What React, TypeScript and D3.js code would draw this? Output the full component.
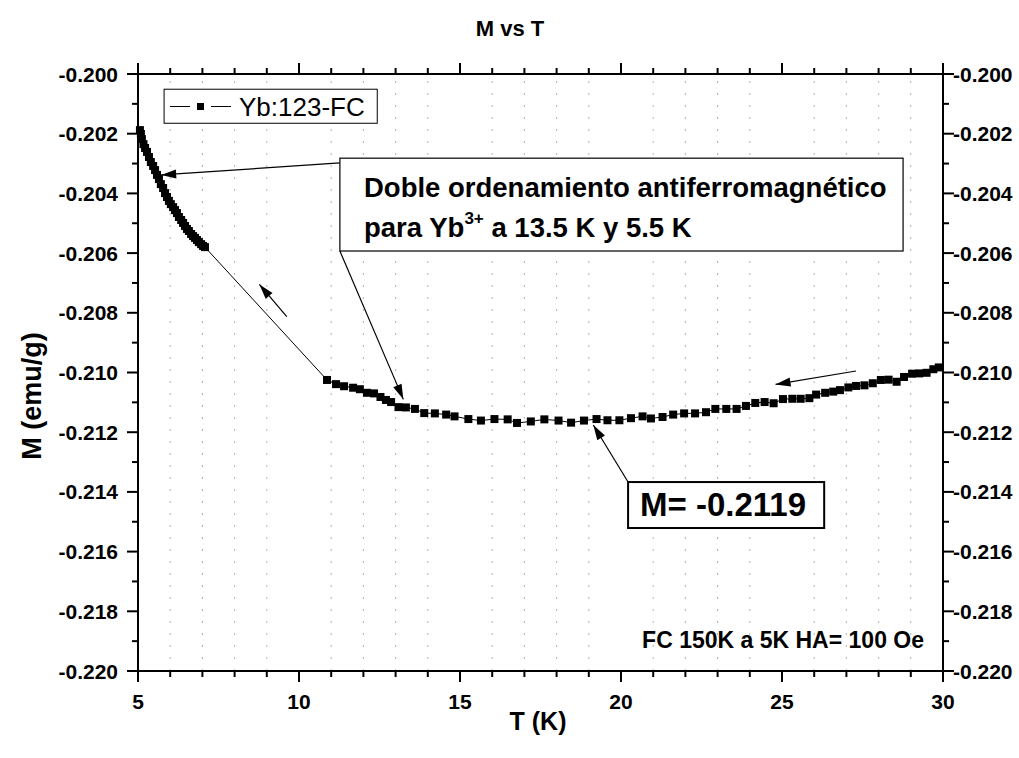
import React from "react";
import * as d3 from "d3";

// ---- data ----
const tempK: number[] = [
  5.06, 5.09, 5.12, 5.17, 5.22, 5.28, 5.34, 5.40, 5.47, 5.53, 5.59, 5.65, 5.71, 5.78, 5.84, 5.90,
  5.96, 6.02, 6.09, 6.15, 6.21, 6.27, 6.34, 6.40, 6.46, 6.52, 6.58, 6.65, 6.71, 6.77, 6.83, 6.89,
  6.96, 7.02, 7.08,
  10.87, 11.15, 11.40, 11.68, 11.89, 12.11, 12.33, 12.53, 12.70, 12.86, 13.09, 13.32, 13.60, 13.89,
  14.22, 14.57, 14.83, 15.26, 15.65, 16.07, 16.48, 16.77, 17.20, 17.62, 18.06, 18.45, 18.85, 19.24,
  19.58, 19.95, 20.31, 20.67, 20.93, 21.29, 21.62, 21.96, 22.30, 22.64, 22.93, 23.27, 23.59, 23.88,
  24.17, 24.46, 24.74, 25.03, 25.32, 25.58, 25.85, 26.06, 26.34, 26.59, 26.80, 27.06, 27.30, 27.56,
  27.82, 28.07, 28.31, 28.56, 28.79, 29.04, 29.26, 29.49, 29.70, 29.87,
];
const magM: number[] = [
  -0.20188, -0.20201, -0.20218, -0.20235, -0.20248, -0.20261, -0.20278, -0.20295, -0.20308, -0.20322,
  -0.20338, -0.20352, -0.20369, -0.20382, -0.20399, -0.20412, -0.20425, -0.20436, -0.20446, -0.20456,
  -0.20466, -0.20479, -0.20489, -0.20499, -0.20509, -0.20519, -0.20526, -0.20536, -0.20543, -0.20549,
  -0.20556, -0.20563, -0.20570, -0.20576, -0.20580,
  -0.21025, -0.21039, -0.21046, -0.21051, -0.21056, -0.21068, -0.21070, -0.21082, -0.21092, -0.21099,
  -0.21116, -0.21117, -0.21122, -0.21136, -0.21137, -0.21141, -0.21147, -0.21156, -0.21161, -0.21156,
  -0.21157, -0.21169, -0.21164, -0.21157, -0.21161, -0.21168, -0.21161, -0.21156, -0.21160, -0.21160,
  -0.21153, -0.21147, -0.21154, -0.21149, -0.21141, -0.21137, -0.21137, -0.21133, -0.21122, -0.21122,
  -0.21122, -0.21112, -0.21102, -0.21099, -0.21103, -0.21089, -0.21088, -0.21088, -0.21086, -0.21074,
  -0.21068, -0.21064, -0.21059, -0.21050, -0.21045, -0.21043, -0.21036, -0.21025, -0.21024, -0.21031,
  -0.21015, -0.21004, -0.21003, -0.21001, -0.20989, -0.20983,
];
const xMajorTicks: number[] = [5, 10, 15, 20, 25, 30];
const xMinorTicks: number[] = d3.range(5, 31, 1);
const yMajorTicks: number[] = [-0.22, -0.218, -0.216, -0.214, -0.212, -0.21, -0.208, -0.206, -0.204, -0.202, -0.2];
const yMinorTicks: number[] = d3.range(0, 21).map((i) => -0.22 + i * 0.001);

const titleText = "M vs T";
const xTitle = "T (K)";
const yTitle = "M (emu/g)";
const legendLabel = "Yb:123-FC";
const noteText = "FC 150K a 5K HA= 100 Oe";
const minLabel = "M= -0.2119";

// arrows in data coordinates
const arrowFrom: [number, number][] = [
  [11.27, -0.20298],
  [11.27, -0.20593],
  [9.62, -0.20813],
  [27.30, -0.20995],
  [20.22, -0.21367],
];
const arrowTo: [number, number][] = [
  [5.72, -0.20338],
  [13.24, -0.21090],
  [8.77, -0.20705],
  [24.80, -0.21040],
  [19.14, -0.21176],
];

const FONT = "'Liberation Sans', Arial, Helvetica, sans-serif";

export default function App() {
  const W = 1019;
  const H = 758;
  const x = d3.scaleLinear().domain([5, 30]).range([138, 943]);
  const y = d3.scaleLinear().domain([-0.22, -0.2]).range([671, 74]);
  const [x0, x1] = x.range();
  const [yb, yt] = y.range();

  const pts = tempK.map((t, i) => [t, magM[i]] as [number, number]);
  const line = d3
    .line<[number, number]>()
    .x((d) => x(d[0]))
    .y((d) => y(d[1]));

  const fmt = (v: number) => d3.format(".3f")(v).replace("\u2212", "-");
  const isMajorX = (v: number) => xMajorTicks.some((m) => Math.abs(m - v) < 1e-9);
  const isMajorY = (v: number) => yMajorTicks.some((m) => Math.abs(m - v) < 1e-9);

  const arrowHead = (fx: number, fy: number, tx: number, ty: number, len = 15, hw = 4.5) => {
    const dx = tx - fx;
    const dy = ty - fy;
    const L = Math.hypot(dx, dy);
    const ux = dx / L;
    const uy = dy / L;
    const bx = tx - ux * len;
    const by = ty - uy * len;
    return `${tx},${ty} ${bx - uy * hw},${by + ux * hw} ${bx + uy * hw},${by - ux * hw}`;
  };

  const box1 = { t0: 11.27, t1: 28.76, m0: -0.20282, m1: -0.20593 };
  const boxM = { t0: 20.22, t1: 26.31, m0: -0.21367, m1: -0.21521 };
  const legendBox = { t0: 5.81, t1: 12.43, m0: -0.20051, m1: -0.20165 };

  return (
    <svg
      width={W}
      height={H}
      style={{ position: "absolute", left: 0, top: 0, background: "#fff" }}
      fontFamily={FONT}
    >
      <rect x={0} y={0} width={W} height={H} fill="#fff" />
      {xMinorTicks
        .filter((v) => !isMajorX(v))
        .map((v) => (
          <line
            key={"g" + v}
            x1={x(v)}
            x2={x(v)}
            y1={yt}
            y2={yb}
            stroke="#b4b4b4"
            strokeWidth={1}
            strokeDasharray="2,10"
            strokeDashoffset={5}
          />
        ))}

      <path d={line(pts) || ""} fill="none" stroke="#000" strokeWidth={1} />
      {pts.map((d, i) => (
        <rect key={"p" + i} x={x(d[0]) - 4} y={y(d[1]) - 4} width={8} height={8} fill="#000" />
      ))}

      <rect x={x0} y={yt} width={x1 - x0} height={yb - yt} fill="none" stroke="#000" strokeWidth={2} />

      {xMinorTicks.map((v) => {
        const L = isMajorX(v) ? 11 : 6;
        return (
          <g key={"xt" + v}>
            <line x1={x(v)} x2={x(v)} y1={yb} y2={yb + L} stroke="#000" strokeWidth={2} />
            <line x1={x(v)} x2={x(v)} y1={yt} y2={yt - L} stroke="#000" strokeWidth={2} />
          </g>
        );
      })}
      {xMajorTicks.map((v) => (
        <text key={"xl" + v} x={x(v)} y={709} textAnchor="middle" fontSize={21} fontWeight="bold">
          {v}
        </text>
      ))}

      {yMinorTicks.map((v) => {
        const L = isMajorY(v) ? 11 : 6;
        return (
          <g key={"yt" + v}>
            <line x1={x0} x2={x0 - L} y1={y(v)} y2={y(v)} stroke="#000" strokeWidth={2} />
            <line x1={x1} x2={x1 + L} y1={y(v)} y2={y(v)} stroke="#000" strokeWidth={2} />
          </g>
        );
      })}
      {yMajorTicks.map((v) => (
        <g key={"yl" + v}>
          <text x={118} y={y(v)} dy="0.36em" textAnchor="end" fontSize={21} fontWeight="bold">
            {fmt(v)}
          </text>
          <text x={953} y={y(v)} dy="0.36em" textAnchor="start" fontSize={21} fontWeight="bold">
            {fmt(v)}
          </text>
        </g>
      ))}

      <text x={510} y={36} textAnchor="middle" fontSize={22} fontWeight="bold">
        {titleText}
      </text>
      <text x={538} y={730} textAnchor="middle" fontSize={25} fontWeight="bold">
        {xTitle}
      </text>
      <text
        transform={`translate(41,396) rotate(-90)`}
        textAnchor="middle"
        fontSize={27}
        fontWeight="bold"
      >
        {yTitle}
      </text>

      <rect
        x={x(legendBox.t0)}
        y={y(legendBox.m0)}
        width={x(legendBox.t1) - x(legendBox.t0)}
        height={y(legendBox.m1) - y(legendBox.m0)}
        fill="#fff"
        stroke="#000"
        strokeWidth={1}
      />
      <line x1={170} x2={190} y1={106.5} y2={106.5} stroke="#000" strokeWidth={1} />
      <line x1={211} x2={231} y1={106.5} y2={106.5} stroke="#000" strokeWidth={1} />
      <rect x={197} y={103} width={7} height={7} fill="#000" />
      <text x={239} y={115.5} fontSize={26}>
        {legendLabel}
      </text>

      {arrowFrom.map((f, i) => {
        const fx = x(f[0]);
        const fy = y(f[1]);
        const tx = x(arrowTo[i][0]);
        const ty = y(arrowTo[i][1]);
        return (
          <g key={"a" + i}>
            <line x1={fx} y1={fy} x2={tx} y2={ty} stroke="#000" strokeWidth={1.2} />
            <polygon points={arrowHead(fx, fy, tx, ty)} fill="#000" />
          </g>
        );
      })}

      <rect
        x={x(box1.t0)}
        y={y(box1.m0)}
        width={x(box1.t1) - x(box1.t0)}
        height={y(box1.m1) - y(box1.m0)}
        fill="#fff"
        stroke="#000"
        strokeWidth={1.2}
      />
      <text x={364} y={197} fontSize={27.5} fontWeight="bold">
        Doble ordenamiento antiferromagnético
      </text>
      <text x={364} y={237} fontSize={27.5} fontWeight="bold">
        para Yb
        <tspan fontSize={17} dy={-13}>
          3+
        </tspan>
        <tspan dy={13}> a 13.5 K y 5.5 K</tspan>
      </text>

      <rect
        x={x(boxM.t0)}
        y={y(boxM.m0)}
        width={x(boxM.t1) - x(boxM.t0)}
        height={y(boxM.m1) - y(boxM.m0)}
        fill="#fff"
        stroke="#000"
        strokeWidth={2}
      />
      <text x={640} y={516} fontSize={33} fontWeight="bold">
        {minLabel}
      </text>

      <text x={924} y={648} textAnchor="end" fontSize={23} fontWeight="bold">
        {noteText}
      </text>
    </svg>
  );
}
